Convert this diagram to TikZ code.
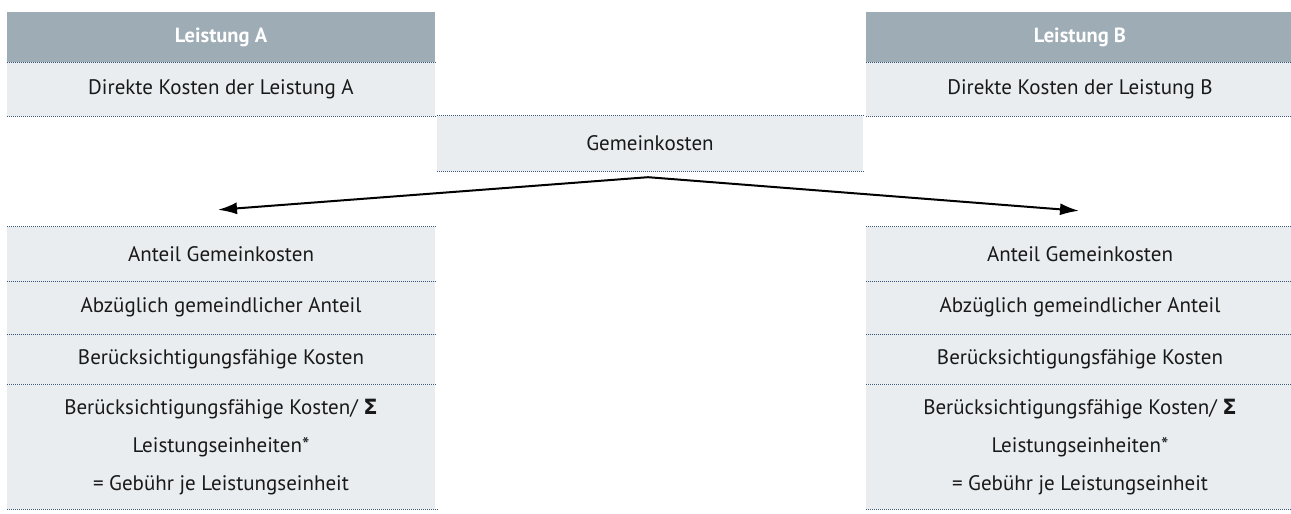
\documentclass[tikz,border=0pt]{standalone}
\usepackage{fontspec}
\setmainfont{PT Sans}
\newfontfamily\sigmafont{DejaVu Sans}
\usetikzlibrary{arrows.meta}
\definecolor{kopfgrau}{RGB}{158,172,182}
\definecolor{zeilengrau}{RGB}{233,237,240}
\definecolor{punktblau}{RGB}{55,85,120}
\tikzset{
  zeile/.style={fill=zeilengrau, minimum width=428pt, inner sep=0pt, align=center,
    text=black!90, font=\fontsize{21}{38}\selectfont},
  kopf/.style={zeile, fill=kopfgrau, text=white, font=\fontsize{20.5}{24}\selectfont\bfseries},
  punkte/.style={punktblau, line width=0.9pt, dash pattern=on 0.9pt off 1.1pt},
  pfeil/.style={-{Latex[length=19pt,width=12pt]}, line width=2pt}
}

\begin{document}
\begin{tikzpicture}[x=1pt,y=1pt]
\useasboundingbox (0,0) rectangle (1291,514);
\node[kopf, minimum height=50pt] (kopfA) at (221,477) {Leistung A};
\node[zeile, minimum height=54pt] (direktA) at (221,425) {Direkte Kosten der Leistung A};
\node[kopf, minimum height=50pt] (kopfB) at (1080,477) {Leistung B};
\node[zeile, minimum height=54pt] (direktB) at (1080,425) {Direkte Kosten der Leistung B};
\node[zeile, minimum width=426pt, minimum height=55pt] (gk) at (650,370.5) {Gemeinkosten};
\node[zeile, minimum height=54pt] (anteilA) at (221,260) {Anteil Gemeinkosten};
\node[zeile, minimum height=53pt] (abzugA) at (221,206.5) {Abzüglich gemeindlicher Anteil};
\node[zeile, minimum height=50pt] (kostenA) at (221,155) {Berücksichtigungsfähige Kosten};
\node[zeile, minimum height=124pt] (gebA) at (221,67) {Berücksichtigungsfähige Kosten/ {\sigmafont\bfseries Σ}\\Leistungseinheiten*\\= Gebühr je Leistungseinheit};
\node[zeile, minimum height=54pt] (anteilB) at (1080,260) {Anteil Gemeinkosten};
\node[zeile, minimum height=53pt] (abzugB) at (1080,206.5) {Abzüglich gemeindlicher Anteil};
\node[zeile, minimum height=50pt] (kostenB) at (1080,155) {Berücksichtigungsfähige Kosten};
\node[zeile, minimum height=124pt] (gebB) at (1080,67) {Berücksichtigungsfähige Kosten/ {\sigmafont\bfseries Σ}\\Leistungseinheiten*\\= Gebühr je Leistungseinheit};
% gepunktete Trennlinien
\draw[punkte] (kopfA.south west) -- (kopfA.south east);
\draw[punkte] (direktA.south west) -- (direktA.south east);
\draw[punkte] (kopfB.south west) -- (kopfB.south east);
\draw[punkte] (direktB.south west) -- (direktB.south east);
\draw[punkte] (gk.north west) -- (gk.north east);
\draw[punkte] (gk.south west) -- (gk.south east);
\draw[punkte] (anteilA.north west) -- (anteilA.north east);
\draw[punkte] (anteilA.south west) -- (anteilA.south east);
\draw[punkte] (abzugA.south west) -- (abzugA.south east);
\draw[punkte] (kostenA.south west) -- (kostenA.south east);
\draw[punkte] (gebA.south west) -- ([xshift=3pt]gebA.south east);
\draw[punkte] (anteilB.north west) -- (anteilB.north east);
\draw[punkte] (anteilB.south west) -- (anteilB.south east);
\draw[punkte] (abzugB.south west) -- (abzugB.south east);
\draw[punkte] (kostenB.south west) -- (kostenB.south east);
\draw[punkte] (gebB.south west) -- (gebB.south east);
% Verteilung der Gemeinkosten
\coordinate (abzweig) at ([xshift=-2pt,yshift=-6pt]gk.south);
\coordinate (zielA) at ([xshift=-3pt,yshift=17pt]anteilA.north);
\coordinate (zielB) at ([xshift=-1pt,yshift=16pt]anteilB.north);
\draw[pfeil] (abzweig) -- (zielA);
\draw[pfeil] (abzweig) -- (zielB);
\end{tikzpicture}
\end{document}
